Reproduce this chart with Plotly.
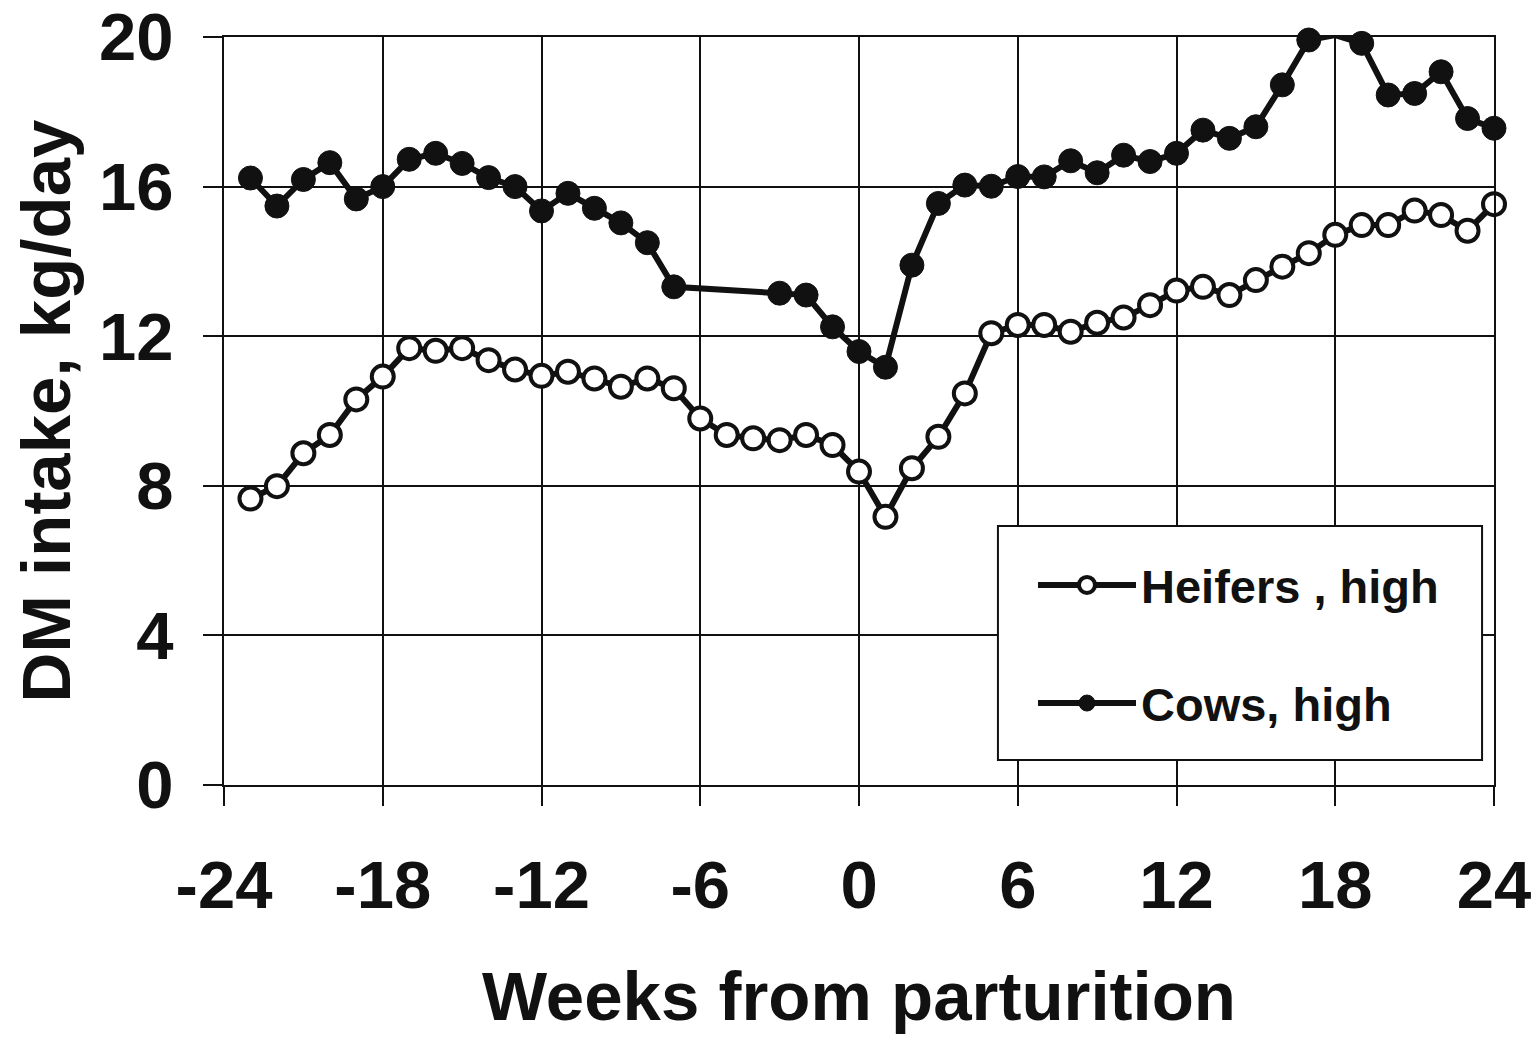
import plotly.graph_objects as go

# weeks relative to parturition
heifer_weeks = list(range(-23, 25))
heifer_dmi = [7.66, 7.99, 8.87, 9.36, 10.31, 10.92, 11.68, 11.61, 11.68, 11.36,
              11.11, 10.94, 11.05, 10.87, 10.65, 10.87, 10.61, 9.80, 9.36, 9.27,
              9.22, 9.36, 9.09, 8.38, 7.17, 8.47, 9.31, 10.47, 12.08, 12.30,
              12.30, 12.12, 12.36, 12.50, 12.83, 13.22, 13.32, 13.10, 13.50, 13.86,
              14.22, 14.71, 14.97, 14.97, 15.36, 15.24, 14.82, 15.53]

cow_weeks = list(range(-23, -6)) + list(range(-3, 25))
cow_dmi = [16.23, 15.48, 16.19, 16.64, 15.67, 16.00, 16.73, 16.89, 16.62, 16.24,
           16.00, 15.35, 15.82, 15.42, 15.03, 14.50, 13.32,
           13.15, 13.10, 12.25, 11.59, 11.17, 13.90, 15.55, 16.04, 16.01, 16.27,
           16.26, 16.69, 16.37, 16.84, 16.67, 16.89, 17.51, 17.29, 17.60, 18.72,
           19.92, 20.05, 19.83, 18.45, 18.49, 19.07, 17.82, 17.56]

x_ticks = [-24, -18, -12, -6, 0, 6, 12, 18, 24]
x_labels = ["-24", "-18", "-12", "-6", "0", "6", "12", "18", "24"]
y_ticks = [0, 4, 8, 12, 16, 20]

FONT = "Liberation Sans, Arial, sans-serif"
BLACK = "#111111"

fig = go.Figure()
fig.add_scatter(x=heifer_weeks, y=heifer_dmi, mode="lines+markers", name="Heifers , high",
                legendgroup="h", cliponaxis=False,
                line=dict(color=BLACK, width=6),
                marker=dict(symbol="circle", size=22, color="white", line=dict(color=BLACK, width=4)))
fig.add_scatter(x=cow_weeks, y=cow_dmi, mode="lines+markers", name="Cows, high",
                legendgroup="c", cliponaxis=False,
                line=dict(color=BLACK, width=6),
                marker=dict(symbol="circle", size=24, color=BLACK, line=dict(color=BLACK, width=1)))

axis_common = dict(showline=True, linecolor=BLACK, linewidth=2, mirror=True,
                   showgrid=True, gridcolor=BLACK, gridwidth=1.5, automargin=False,
                   ticks="outside", ticklen=19, tickwidth=2, tickcolor=BLACK,
                   zeroline=False, ticklabeloverflow="allow",
                   tickfont=dict(family=FONT, size=67, color=BLACK))

fig.update_xaxes(range=[-24, 24], tickvals=x_ticks, ticktext=x_labels, ticklabelstandoff=22,
                 title=dict(text="<b>Weeks from parturition</b>", standoff=50,
                            font=dict(family=FONT, size=69, color=BLACK)),
                 **axis_common)
fig.update_yaxes(range=[0, 20], tickvals=y_ticks, ticklabelstandoff=16,
                 title=dict(text="<b>DM intake, kg/day</b>", standoff=34,
                            font=dict(family=FONT, size=69, color=BLACK)),
                 **axis_common)

# legend frame (drawn as a box, the legend itself sits inside it)
fig.add_shape(type="rect", xref="paper", yref="paper", x0=0.6094, x1=0.9906, y0=0.0334, y1=0.3463,
              line=dict(color=BLACK, width=2), fillcolor="white", layer="above")

# page body adds an 8px offset, so margins are shifted to keep the plot box in place
fig.update_layout(
    width=1540, height=1043,
    margin=dict(l=216, r=54, t=29, b=266),
    plot_bgcolor="white", paper_bgcolor="white",
    font=dict(family=FONT, color=BLACK, weight="bold"),
    showlegend=True,
    legend=dict(x=0.637, y=0.317, xanchor="left", yanchor="top",
                bgcolor="rgba(0,0,0,0)", borderwidth=0,
                font=dict(family=FONT, size=47, color=BLACK, weight="bold"),
                tracegroupgap=54, itemwidth=98,
                traceorder="grouped"),
)

fig.write_html("out.html")
